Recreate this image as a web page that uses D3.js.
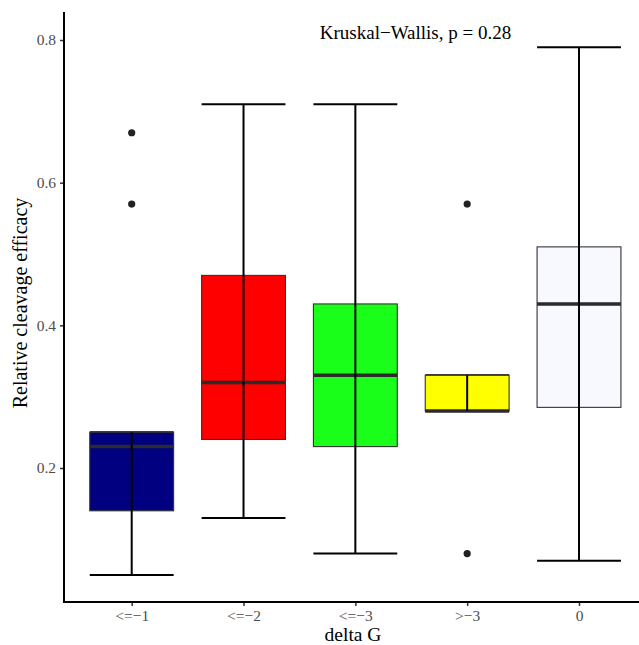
<!DOCTYPE html>
<html>
<head>
<meta charset="utf-8">
<script src="https://cdn.jsdelivr.net/npm/d3@7"></script>
<style>
body{margin:0;background:#fff;}
svg{display:block;}
text{font-family:"Liberation Serif","Times New Roman","DejaVu Serif",serif;}
</style>
</head>
<body>
<svg id="chart" width="639" height="645"></svg>
<script>
const categories = ["<=-1", "<=-2", "<=-3", ">-3", "0"];
const whiskerLow  = [0.05, 0.13, 0.08, 0.28, 0.07];
const q1          = [0.14, 0.24, 0.23, 0.28, 0.285];
const medians     = [0.23, 0.32, 0.33, 0.28, 0.43];
const q3          = [0.25, 0.47, 0.43, 0.33, 0.51];
const whiskerHigh = [0.25, 0.71, 0.71, 0.33, 0.79];
const outliers    = [[0.57, 0.67], [], [], [0.08, 0.57], []];
const fills       = ["#000080", "#ff0000", "#1aff1a", "#ffff00", "#f8f8ff"];
const yTicks      = [0.2, 0.4, 0.6, 0.8];
const annotation  = "Kruskal\u2212Wallis, p = 0.28";

const svg = d3.select("#chart");
const font = '"Liberation Serif","Times New Roman","DejaVu Serif",serif';

const x = d3.scalePoint().domain(categories).range([131.7, 579]);
const step = 111.8;
const y = d3.scaleLinear().domain([0.2, 0.8]).range([468, 40]);
const plotLeft = 64, plotBottom = 602, plotTop = 12, plotRight = 639;
const halfW = step * 0.75 / 2;

const data = categories.map((c, i) => ({
  c, lo: whiskerLow[i], q1: q1[i], med: medians[i], q3: q3[i], hi: whiskerHigh[i],
  out: outliers[i], fill: fills[i]
}));

const g = svg.append("g");
data.forEach(d => {
  const cx = x(d.c);
  g.append("line").attr("x1", cx - halfW).attr("x2", cx + halfW)
    .attr("y1", y(d.lo)).attr("y2", y(d.lo)).attr("stroke", "#000").attr("stroke-width", 2);
  g.append("line").attr("x1", cx - halfW).attr("x2", cx + halfW)
    .attr("y1", y(d.hi)).attr("y2", y(d.hi)).attr("stroke", "#000").attr("stroke-width", 2);
  g.append("rect").attr("x", cx - halfW).attr("width", 2 * halfW)
    .attr("y", y(d.q3)).attr("height", y(d.q1) - y(d.q3))
    .attr("fill", d.fill).attr("stroke", "#333").attr("stroke-width", 1.1);
  g.append("line").attr("x1", cx - halfW).attr("x2", cx + halfW)
    .attr("y1", y(d.med)).attr("y2", y(d.med)).attr("stroke", "#2b2b2b").attr("stroke-width", 3.5);
  g.append("line").attr("x1", cx).attr("x2", cx)
    .attr("y1", y(d.lo)).attr("y2", y(d.hi)).attr("stroke", "#000").attr("stroke-width", 2);
  d.out.forEach(v => {
    g.append("circle").attr("cx", cx).attr("cy", y(v)).attr("r", 3.6).attr("fill", "#222");
  });
});

const yAxis = d3.axisLeft(y).tickValues(yTicks).tickFormat(d3.format(".1f")).tickSize(4).tickPadding(4);
const ya = svg.append("g").attr("transform", `translate(${plotLeft},0)`).call(yAxis);
ya.attr("font-family", font).attr("font-size", 15.5);
ya.select(".domain").remove();
ya.selectAll(".tick line").attr("stroke", "#333").attr("stroke-width", 1.5);
ya.selectAll(".tick text").attr("fill", "#4d4d4d");

const xAxis = d3.axisBottom(x).tickSize(4).tickPadding(4)
  .tickFormat(s => s.replace(/-/g, "\u2212"));
const xa = svg.append("g").attr("transform", `translate(0,${plotBottom})`).call(xAxis);
xa.attr("font-family", font).attr("font-size", 15.5);
xa.select(".domain").remove();
xa.selectAll(".tick line").attr("stroke", "#333").attr("stroke-width", 1.5);
xa.selectAll(".tick text").attr("fill", "#4d4d4d");

svg.append("line").attr("x1", plotLeft).attr("x2", plotLeft).attr("y1", plotTop).attr("y2", plotBottom + 0.5)
  .attr("stroke", "#000").attr("stroke-width", 2);
svg.append("line").attr("x1", plotLeft - 1).attr("x2", plotRight).attr("y1", plotBottom).attr("y2", plotBottom)
  .attr("stroke", "#000").attr("stroke-width", 2);

svg.append("text").attr("x", 353).attr("y", 641).attr("text-anchor", "middle")
  .attr("font-size", 19.5).attr("fill", "#000").text("delta G");
svg.append("text").attr("transform", "translate(27,303) rotate(-90)").attr("text-anchor", "middle")
  .attr("font-size", 20).attr("fill", "#000").text("Relative cleavage efficacy");
svg.append("text").attr("x", 415.5).attr("y", 39).attr("text-anchor", "middle")
  .attr("font-size", 19).attr("fill", "#000").text(annotation);
</script>
</body>
</html>
